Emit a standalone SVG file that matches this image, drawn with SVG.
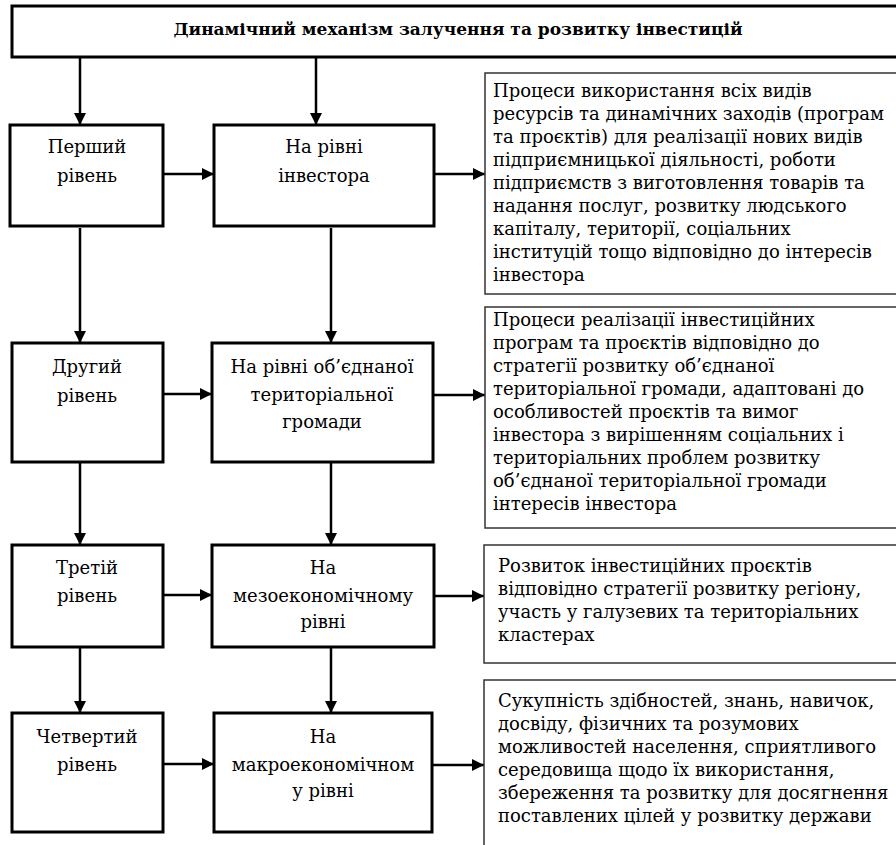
<svg xmlns="http://www.w3.org/2000/svg" width="896" height="845" viewBox="0 0 896 845">
<defs>
<marker id="ah" viewBox="0 0 12 12" refX="12" refY="6" markerWidth="12" markerHeight="12" markerUnits="userSpaceOnUse" orient="auto">
<path d="M0,0 L12,6 L0,12 Z" fill="#000"/>
</marker>
</defs>
<style>
.bx{fill:#fff;stroke:#000;stroke-width:3}
.tb{fill:#fff;stroke:#333;stroke-width:1.5}
.c{stroke:#000;stroke-width:2.5;fill:none;marker-end:url(#ah)}
text{font-family:"DejaVu Serif","Liberation Serif",serif;font-size:18px;fill:#000}
.m{text-anchor:middle}
.t{font-weight:bold;font-size:17px}
.l{font-size:18px}
</style>
<rect width="896" height="845" fill="#fff"/>
<g id="title">
<rect class="bx" x="12" y="6" width="896" height="51"/>
<text class="t m" x="458" y="35">Динамічний механізм залучення та розвитку інвестицій</text>
</g>
<g id="connectors">
<line class="c" x1="80" y1="57" x2="80" y2="125"/>
<line class="c" x1="316" y1="57" x2="316" y2="125"/>
<line class="c" x1="163" y1="174" x2="214" y2="174"/>
<line class="c" x1="434" y1="174" x2="485" y2="174"/>
<line class="c" x1="80" y1="228" x2="80" y2="343"/>
<line class="c" x1="331" y1="228" x2="331" y2="343"/>
<line class="c" x1="163" y1="394" x2="212" y2="394"/>
<line class="c" x1="433" y1="395" x2="485" y2="395"/>
<line class="c" x1="80" y1="462" x2="80" y2="545"/>
<line class="c" x1="331" y1="462" x2="331" y2="545"/>
<line class="c" x1="163" y1="595" x2="212" y2="595"/>
<line class="c" x1="434" y1="596" x2="484" y2="596"/>
<line class="c" x1="80" y1="647" x2="80" y2="713"/>
<line class="c" x1="331" y1="647" x2="331" y2="713"/>
<line class="c" x1="163" y1="764" x2="214" y2="764"/>
<line class="c" x1="432" y1="765" x2="484" y2="765"/>
</g>
<g id="level1">
<rect class="bx" x="10" y="125" width="153" height="101"/>
<text class="m l" x="87" y="153">Перший</text>
<text class="m l" x="87" y="182">рівень</text>
</g>
<g id="investor">
<rect class="bx" x="214" y="125" width="220" height="101"/>
<text class="m l" x="324" y="153">На рівні</text>
<text class="m l" x="324" y="182">інвестора</text>
</g>
<g id="desc1">
<rect class="tb" x="485" y="73" width="420" height="221"/>
<text x="493" y="97">Процеси використання всіх видів</text>
<text x="493" y="120">ресурсів та динамічних заходів (програм</text>
<text x="493" y="143">та проєктів) для реалізації нових видів</text>
<text x="493" y="166">підприємницької діяльності, роботи</text>
<text x="493" y="189">підприємств з виготовлення товарів та</text>
<text x="493" y="212">надання послуг, розвитку людського</text>
<text x="493" y="235">капіталу, території, соціальних</text>
<text x="493" y="258">інституцій тощо відповідно до інтересів</text>
<text x="493" y="281">інвестора</text>
</g>
<g id="level2">
<rect class="bx" x="12" y="343" width="151" height="119"/>
<text class="m l" x="87" y="373">Другий</text>
<text class="m l" x="87" y="402">рівень</text>
</g>
<g id="community">
<rect class="bx" x="212" y="343" width="221" height="119"/>
<text class="m l" x="322" y="373">На рівні об’єднаної</text>
<text class="m l" x="322" y="401">територіальної</text>
<text class="m l" x="322" y="428">громади</text>
</g>
<g id="desc2">
<rect class="tb" x="485" y="307" width="420" height="221"/>
<text x="493" y="326">Процеси реалізації інвестиційних</text>
<text x="493" y="349">програм та проєктів відповідно до</text>
<text x="493" y="372">стратегії розвитку об’єднаної</text>
<text x="493" y="395">територіальної громади, адаптовані до</text>
<text x="493" y="418">особливостей проєктів та вимог</text>
<text x="493" y="441">інвестора з вирішенням соціальних і</text>
<text x="493" y="464">територіальних проблем розвитку</text>
<text x="493" y="487">об’єднаної територіальної громади</text>
<text x="493" y="510">інтересів інвестора</text>
</g>
<g id="level3">
<rect class="bx" x="12" y="545" width="151" height="102"/>
<text class="m l" x="87" y="574">Третій</text>
<text class="m l" x="87" y="602">рівень</text>
</g>
<g id="meso">
<rect class="bx" x="212" y="545" width="222" height="102"/>
<text class="m l" x="323" y="574">На</text>
<text class="m l" x="323" y="602">мезоекономічному</text>
<text class="m l" x="323" y="628">рівні</text>
</g>
<g id="desc3">
<rect class="tb" x="484" y="545" width="420" height="118"/>
<text x="498" y="572">Розвиток інвестиційних проєктів</text>
<text x="498" y="595">відповідно стратегії розвитку регіону,</text>
<text x="498" y="618">участь у галузевих та територіальних</text>
<text x="498" y="641">кластерах</text>
</g>
<g id="level4">
<rect class="bx" x="12" y="713" width="151" height="119"/>
<text class="m l" x="87" y="743">Четвертий</text>
<text class="m l" x="87" y="771">рівень</text>
</g>
<g id="macro">
<rect class="bx" x="214" y="713" width="218" height="119"/>
<text class="m l" x="323" y="743">На</text>
<text class="m l" x="323" y="771">макроекономічном</text>
<text class="m l" x="323" y="797">у рівні</text>
</g>
<g id="desc4">
<rect class="tb" x="484" y="680" width="420" height="180"/>
<text x="498" y="707">Сукупність здібностей, знань, навичок,</text>
<text x="498" y="730">досвіду, фізичних та розумових</text>
<text x="498" y="753">можливостей населення, сприятливого</text>
<text x="498" y="776">середовища щодо їх використання,</text>
<text x="498" y="799">збереження та розвитку для досягнення</text>
<text x="498" y="822">поставлених цілей у розвитку держави</text>
</g>
</svg>
